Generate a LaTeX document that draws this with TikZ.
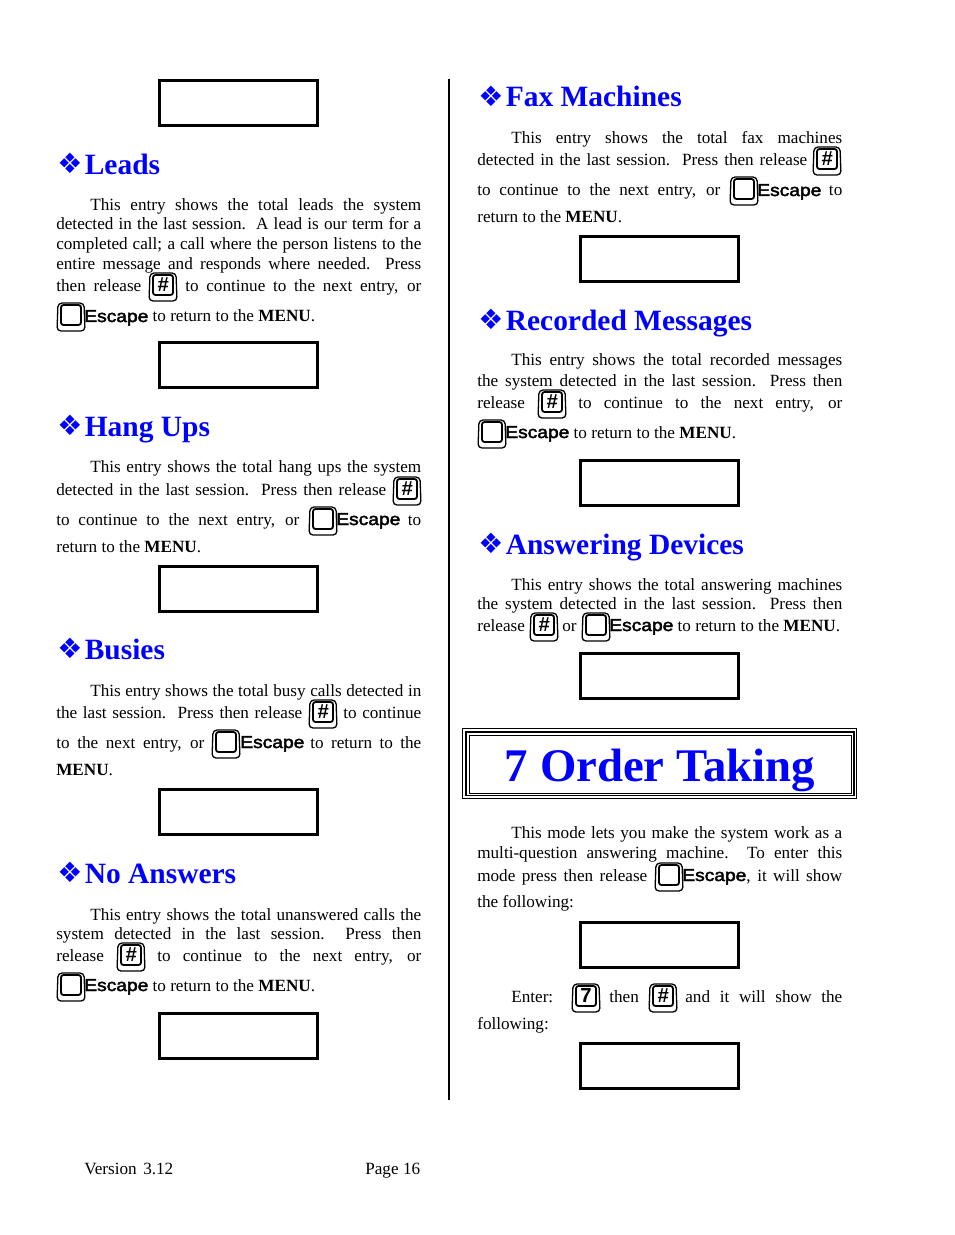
\documentclass[tikz,border=0pt]{standalone}
\usepackage{fontspec}
\setmainfont{Liberation Serif}
\newfontfamily\symfont{DejaVu Sans}
\newfontfamily\capfont[FakeStretch=1.12,FakeBold=2.5]{Liberation Sans}
\newfontfamily\keyfont{Liberation Sans}
\newdimen\pxu
\pxu=0.6415bp
\definecolor{headblue}{RGB}{0,0,255}
\tikzset{
  lcd/.style={draw,line width=3\pxu,minimum width=158\pxu,minimum height=45\pxu,inner sep=0pt},
  textline/.style={anchor=base west,inner sep=0pt,font=\fontsize{11bp}{13bp}\selectfont},
  heading/.style={anchor=base west,inner sep=0pt,text=headblue,font=\fontsize{18.9bp}{22bp}\selectfont\bfseries},
  pics/keycap/.style={code={
    \draw[line width=1.3\pxu,rounded corners=4\pxu] (14,-17) -- (27,-17) -- (28,11) -- (0,11) -- (1,-17) -- cycle;
    \draw[line width=1.8\pxu,rounded corners=2.5\pxu] (4,-15) rectangle (24,5);
    \node[inner sep=0pt,font=\fontsize{13bp}{13bp}\selectfont\keyfont\bfseries] (-glyph) at (14,-5) {#1};
  }}
}
\newcommand{\esc}{{\capfont Escape}}
\begin{document}
\begin{tikzpicture}[x=\pxu,y=-\pxu]
\useasboundingbox (0,0) rectangle (954,1235);
% column rule
\coordinate (ruletop) at (449,79);
\coordinate (rulebot) at (449,1100);
\draw[line width=2\pxu] (ruletop) -- (rulebot);
% display boxes
\foreach \i/\x/\y in {1/238.5/103,2/238.5/365,3/238.5/589,4/238.5/812,5/238.5/1036,6/659.5/259,7/659.5/483,8/659.5/676,9/659.5/945,10/659.5/1066} {
  \node[lcd] (lcd\i) at (\x,\y) {};
}
% headings
\foreach \t/\x/\y[count=\n] in {Leads/57/174.5,Hang Ups/57/436,Busies/57/659,No Answers/57/883,Fax Machines/478/107,Recorded Messages/478/330,Answering Devices/478/554} {
  \node[heading] (head\n) at (\x,\y) {\makebox[27.5\pxu][l]{\raisebox{0.6bp}{\fontsize{18bp}{20bp}\selectfont\symfont ❖}}\t};
}
% text, one node for each run of a line
\foreach \x/\y/\w/\t[count=\n] in {
  90/211/331/{This entry shows the total leads the system},
  56/230/365/{detected in the last session.\ \ A lead is our term for a},
  56/250/365/{completed call; a call where the person listens to the},
  56/270/365/{entire message and responds where needed.\ \ Press},
  56/292/85/{then release},
  185/292/236/{to continue to the next entry, or},
  84/322/300/{\esc\ to return to the \textbf{MENU}.\hfill},
  90/472/331/{This entry shows the total hang ups the system},
  56/495/330/{detected in the last session.\ \ Press then release},
  56/525/243/{to continue to the next entry, or},
  336/525/85/{\esc\hfill to},
  56/552/200/{return to the \textbf{MENU}.\hfill},
  90/696/331/{This entry shows the total busy calls detected in},
  56/718/246/{the last session.\ \ Press then release},
  343/718/78/{to continue},
  56/748/148/{to the next entry, or},
  240/748/65/{\esc\hfill},
  310/748/111/{to return to the},
  56/775/80/{\textbf{MENU}.\hfill},
  90/920/331/{This entry shows the total unanswered calls the},
  56/939/365/{system detected in the last session.\ \ Press then},
  56/961/48/{release},
  157/961/264/{to continue to the next entry, or},
  84/991/300/{\esc\ to return to the \textbf{MENU}.\hfill},
  511/144/331/{This entry shows the total fax machines},
  477/166/330/{detected in the last session.\ \ Press then release},
  477/196/243/{to continue to the next entry, or},
  757/196/85/{\esc\hfill to},
  477/223/200/{return to the \textbf{MENU}.\hfill},
  511/366/331/{This entry shows the total recorded messages},
  477/386/365/{the system detected in the last session.\ \ Press then},
  477/408/48/{release},
  578/408/264/{to continue to the next entry, or},
  505/438/300/{\esc\ to return to the \textbf{MENU}.\hfill},
  511/590/331/{This entry shows the total answering machines},
  477/609/365/{the system detected in the last session.\ \ Press then},
  477/631/48/{release},
  562/631/16/{or},
  609/631/300/{\esc\ to return to the \textbf{MENU}.\hfill},
  511/838.5/331/{This mode lets you make the system work as a},
  477/858.5/365/{multi-question answering machine.\ \ To enter this},
  477/881/170/{mode press then release},
  682/881/160/{\esc, it will show},
  477/907.5/100/{the following:\hfill},
  511/1002/41/{Enter:},
  609/1002/30/{then},
  685/1002/157/{and it will show the},
  477/1029/80/{following:\hfill},
  84/1174/89/{Version 3.12},
  365/1174/55/{Page 16}} {
  \node[textline] (line\n) at (\x,\y) {\hbox to \w\pxu{\t}};
}
% keys
\foreach \x/\y/\g[count=\n] in {149/290/{\itshape\#},393/494/{\itshape\#},309/717/{\itshape\#},117/960/{\itshape\#},813/164/{\itshape\#},538/407/{\itshape\#},530/630/{\itshape\#},649/1001/{\itshape\#},572/1001/7,57/320/{},309/524/{},212/747/{},57/990/{},730/194/{},478/437/{},582/630/{},655/880/{}} {
  \pic (key\n) at (\x,\y) {keycap={\g}};
}
% chapter title
\node[inner sep=0pt,anchor=base,text=headblue,font=\fontsize{30bp}{34bp}\selectfont\bfseries] (title) at (660,781) {7 Order Taking};
\draw[line width=1\pxu] (462.5,728.5) rectangle (856.5,798.5);
\draw[line width=1.8\pxu] (466,732) rectangle (854,795.5);
\draw[line width=1\pxu] (469,735) rectangle (851,793);
\end{tikzpicture}
\end{document}
